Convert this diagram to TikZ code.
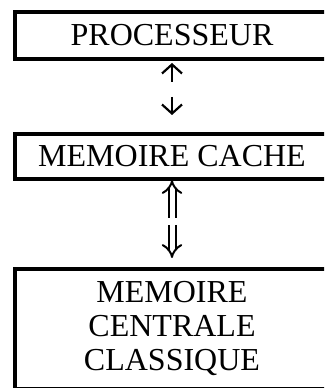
\documentclass[tikz,border=0pt]{standalone}
\usepackage{fontspec}
\setmainfont{Liberation Serif}
\usetikzlibrary{arrows.meta,positioning}

\begin{document}
\begin{tikzpicture}[
    x=1pt, y=1pt,
    boite/.style={draw, line width=4pt, outer sep=0pt, inner sep=0pt, minimum width=314pt, align=center, font=\fontsize{32}{34}\selectfont},
    fleche/.style={-{Straight Barb[length=9pt, width=20pt]}, line width=2.2pt},
    dfleche/.style={-{Implies[length=11pt, width=22pt]}, double, double distance=5pt, line width=2pt}
  ]
    \useasboundingbox (0,0) rectangle (324,388);
    \clip (0,0) rectangle (324,388);
    \node[boite, minimum height=47pt] (proc) at (172,352.5) {PROCESSEUR};
    \node[boite, minimum height=45pt, below=75pt of proc] (cache) {MEMOIRE CACHE};
    \node[boite, minimum height=120pt, below=90pt of cache] (mem) {MEMOIRE\\CENTRALE\\CLASSIQUE};
    \draw[fleche, shorten <=52pt, shorten >=4pt] (cache.north) -- (proc.south);
    \draw[fleche, shorten <=38pt, shorten >=19pt] (proc.south) -- (cache.north);
    \draw[dfleche, shorten <=51pt, shorten >=1pt] (mem.north) -- (cache.south);
    \draw[dfleche, shorten <=46pt, shorten >=11pt] (cache.south) -- (mem.north);
  \end{tikzpicture}
\end{document}
